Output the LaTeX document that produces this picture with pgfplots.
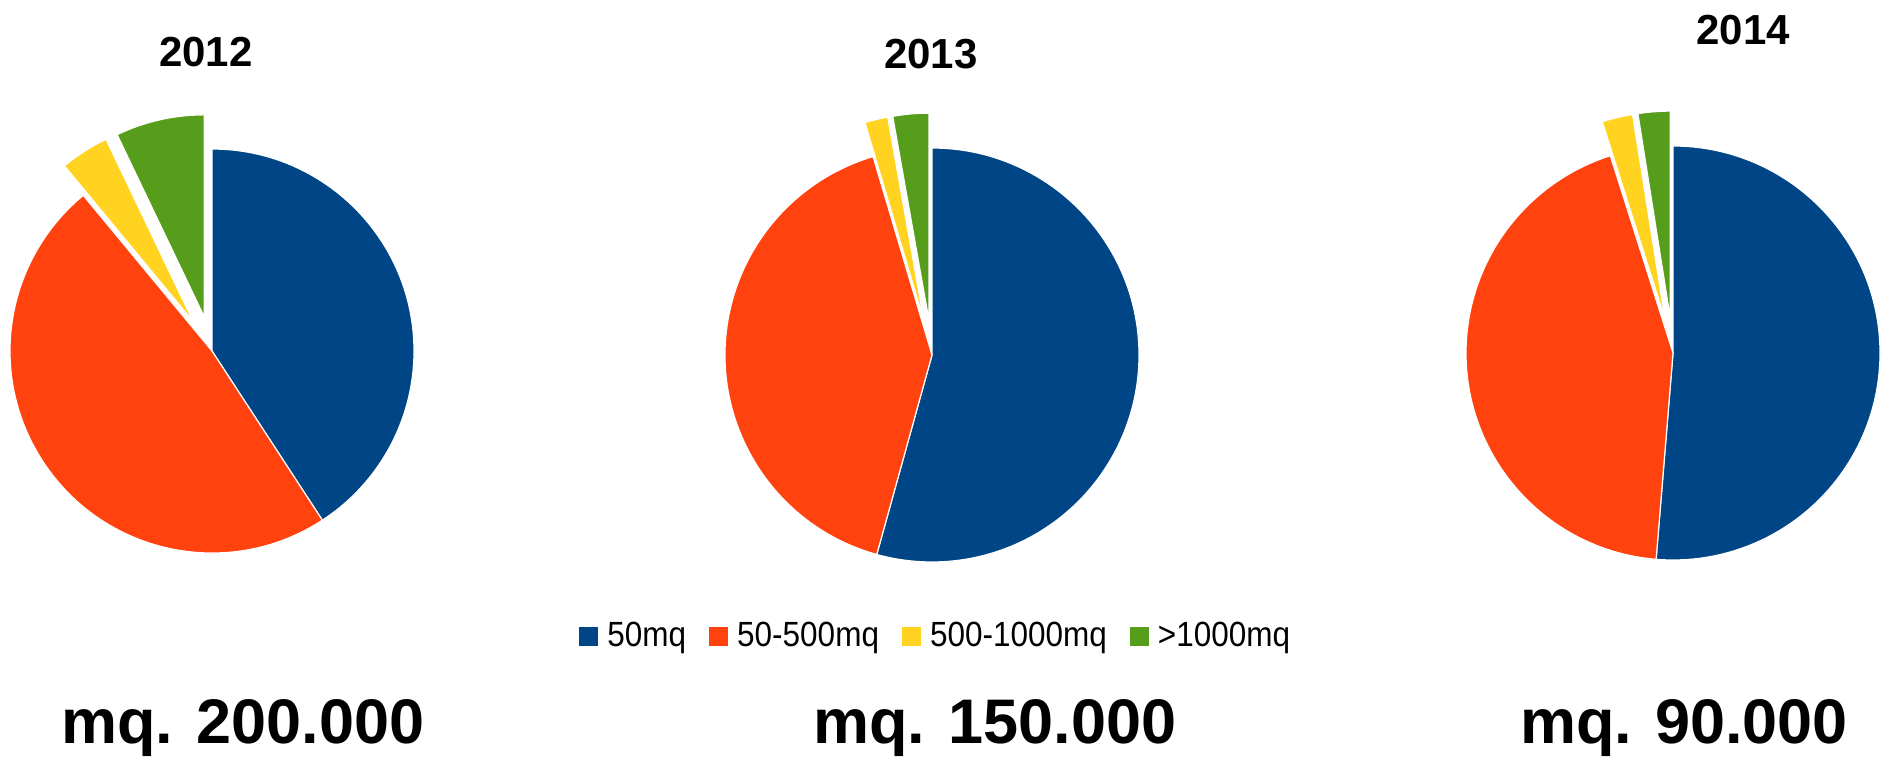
\documentclass[border=0pt]{standalone}
\usepackage{pgfplots}
\pgfplotsset{compat=1.18}
\usepackage{pgfplotstable}
\usepackage{fontspec}
\setmainfont{Liberation Sans}
\newfontfamily\legfont[FakeStretch=0.9]{Liberation Sans}
\definecolor{cblue}{HTML}{004586}
\definecolor{corange}{HTML}{FF420E}
\definecolor{cyellow}{HTML}{FFD320}
\definecolor{cgreen}{HTML}{579D1C}

% shares (percent) of each class, and pie centre / radius in picture pixels
\pgfplotstableread{
year p1 p2 p3 p4 cx cy r
2012 40.8 48.2 3.9 7.1 212 351 202
2013 54.3 41.1 1.8 2.8 932 355 207
2014 51.3 43.8 2.4 2.5 1673 353 207
}\piedata

\newcommand\pieslice[4]{% start angle, percent, explode (px), colour
  \pgfmathsetmacro\sa{#1}%
  \pgfmathsetmacro\ea{#1-3.6*#2}%
  \pgfmathsetmacro\ma{(\sa+\ea)/2}%
  \pgfmathsetmacro\ex{#3*0.5}%
  \fill[#4, draw=white, line width=0.6pt]
    ([shift={(\ma:\ex pt)}]axis cs:\cx,\cy) -- ++(\sa:\rad pt)
    arc[start angle=\sa, end angle=\ea, radius=\rad pt] -- cycle;
}
\newcommand\drawpie[1]{%
  \pgfplotstablegetelem{#1}{cx}\of\piedata \edef\cx{\pgfplotsretval}%
  \pgfplotstablegetelem{#1}{cy}\of\piedata \edef\cy{\pgfplotsretval}%
  \pgfplotstablegetelem{#1}{r}\of\piedata \pgfmathsetmacro\rad{\pgfplotsretval*0.5}%
  \pgfplotstablegetelem{#1}{p1}\of\piedata \edef\pa{\pgfplotsretval}%
  \pgfplotstablegetelem{#1}{p2}\of\piedata \edef\pb{\pgfplotsretval}%
  \pgfplotstablegetelem{#1}{p3}\of\piedata \edef\pc{\pgfplotsretval}%
  \pgfplotstablegetelem{#1}{p4}\of\piedata \edef\pd{\pgfplotsretval}%
  \pgfmathsetmacro\sA{90}%
  \pgfmathsetmacro\sB{90-3.6*\pa}%
  \pgfmathsetmacro\sC{90-3.6*(\pa+\pb)}%
  \pgfmathsetmacro\sD{90-3.6*(\pa+\pb+\pc)}%
  \pieslice{\sA}{\pa}{0}{cblue}%
  \pieslice{\sB}{\pb}{0}{corange}%
  \pieslice{\sC}{\pc}{35}{cyellow}%
  \pieslice{\sD}{\pd}{35}{cgreen}%
}

\begin{document}
\begin{tikzpicture}
\begin{axis}[
  width=944.5pt, height=379.5pt, scale only axis,
  xmin=0, xmax=1889, ymin=0, ymax=759, y dir=reverse,
  hide axis, clip=false,
  legend columns=4,
  legend image code/.code={\fill[#1] (0pt,-4.75pt) rectangle (9.5pt,4.75pt);},
  legend style={at={(axis cs:579,636)}, anchor=west, draw=none, fill=none,
    inner sep=0pt, font=\legfont\fontsize{17.5}{20}\selectfont,
    nodes={inner sep=2pt},
    /tikz/every odd column/.append style={column sep=2.5pt},
    /tikz/every even column/.append style={column sep=9.5pt}},
]
\addlegendimage{fill=cblue, draw=none}
\addlegendentry{50mq}
\addlegendimage{fill=corange, draw=none}
\addlegendentry{50-500mq}
\addlegendimage{fill=cyellow, draw=none}
\addlegendentry{500-1000mq}
\addlegendimage{fill=cgreen, draw=none}
\addlegendentry{>1000mq}

\pgfplotsextra{\drawpie{0}\drawpie{1}\drawpie{2}}

\node[font=\bfseries\fontsize{21}{25}\selectfont] at (axis cs:206,52) {2012};
\node[font=\bfseries\fontsize{21}{25}\selectfont] at (axis cs:931,54) {2013};
\node[font=\bfseries\fontsize{21}{25}\selectfont] at (axis cs:1743,30) {2014};

\node[anchor=base, font=\bfseries\fontsize{31.5}{36}\selectfont] at (axis cs:243,743) {mq. 200.000};
\node[anchor=base, font=\bfseries\fontsize{31.5}{36}\selectfont] at (axis cs:995,743) {mq. 150.000};
\node[anchor=base, font=\bfseries\fontsize{31.5}{36}\selectfont] at (axis cs:1684,743) {mq. 90.000};

\coordinate (SWc) at (axis cs:0,759);
\coordinate (NEc) at (axis cs:1889,0);
\end{axis}
\pgfresetboundingbox
\path (SWc) rectangle (NEc);
\end{tikzpicture}
\end{document}
